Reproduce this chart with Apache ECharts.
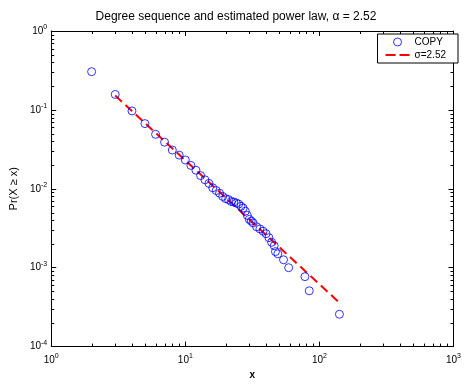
<!DOCTYPE html>
<html><head><meta charset="utf-8">
<script src="https://cdn.jsdelivr.net/npm/echarts@6/dist/echarts.min.js"></script>
<style>html,body{margin:0;padding:0;background:#fff}#c{width:464px;height:385px}</style>
</head><body><div id="c"></div>
<script>
// Data
const degX = [2,3,4,5,6,7,8,9,10,11,12,13,14,15,16,17,18,19,20,21,22,23,24,25,26,27,28,29,30,31,32,34,36,38,40,42,44,46,47,49,54,59,78,84,141];
const ccdf = [0.305,0.157,0.097,0.067,0.049,0.039,0.031,0.0267,0.0232,0.0198,0.0172,0.0147,0.0130,0.0117,0.0103,0.0095,0.0088,0.0080,0.0075,0.0073,0.0069,0.0068,0.0066,0.0064,0.0060,0.0057,0.0052,0.0046,0.0041,0.0039,0.0037,0.0033,0.0031,0.0029,0.0027,0.0024,0.0021,0.0019,0.0016,0.0015,0.00126,0.00100,0.00077,0.00051,0.000257];
const fitX = [3, 141];
const fitY = [0.152, 0.00036];
const xMinorTicks = [2,3,4,5,6,7,8,9,20,30,40,50,60,70,80,90,200,300,400,500,600,700,800,900];
const yMinorTicks = [2e-4,3e-4,4e-4,5e-4,6e-4,7e-4,8e-4,9e-4,2e-3,3e-3,4e-3,5e-3,6e-3,7e-3,8e-3,9e-3,0.02,0.03,0.04,0.05,0.06,0.07,0.08,0.09,0.2,0.3,0.4,0.5,0.6,0.7,0.8,0.9];
const titleText = 'Degree sequence and estimated power law, \u03b1 = 2.52';
const seriesNames = ['COPY', '\u03c3=2.52'];

const FONT = 'Liberation Sans';
const chart = echarts.init(document.getElementById('c'), null, {renderer:'canvas'});
const supFmt = v => '10{s|' + Math.round(Math.log10(v)) + '}';
const rich = {s:{fontSize:7, fontFamily:FONT, color:'#000', padding:[0,0,8,0]}};
const baseAxis = {
  type:'log', logBase:10,
  axisLine:{show:true, lineStyle:{color:'#000', width:1}},
  axisTick:{show:true, inside:true, length:5, lineStyle:{color:'#000'}},
  splitLine:{show:false}, minorTick:{show:false}
};
const tickData = xMinorTicks.map(v => [v, 0.01, 0]).concat(yMinorTicks.map(v => [10, v, 1]));

chart.setOption({
  animation:false,
  backgroundColor:'#fff',
  title:{text:titleText, left:231, top:6, textAlign:'center',
    textStyle:{fontFamily:FONT, fontSize:12, fontWeight:'normal', color:'#000'}},
  grid:{left:50, top:31, right:3, bottom:31, show:false},
  legend:{
    orient:'vertical', right:6, top:34, itemGap:3, itemWidth:24, itemHeight:8,
    borderColor:'#000', borderWidth:1, padding:[3,12,3,8], backgroundColor:'#fff',
    textStyle:{fontFamily:FONT, fontSize:10, color:'#000'},
    data:[
      {name:seriesNames[0], icon:'circle', itemStyle:{color:'#fff', borderColor:'#0000ff', borderWidth:1}},
      {name:seriesNames[1], icon:'path://M0,0 L10,0 L10,2 L0,2 Z M14,0 L24,0 L24,2 L14,2 Z', itemStyle:{color:'#ff0000'}}
    ]
  },
  xAxis:[
    Object.assign({}, baseAxis, {min:1, max:1000, position:'bottom',
      name:'x', nameLocation:'middle', nameGap:22,
      nameTextStyle:{fontFamily:FONT, fontSize:10, color:'#000', fontWeight:'bold'},
      axisLabel:{formatter:supFmt, rich:rich, fontFamily:FONT, fontSize:10, color:'#000', margin:6}}),
    Object.assign({}, baseAxis, {min:1, max:1000, position:'top', axisLabel:{show:false}})
  ],
  yAxis:[
    Object.assign({}, baseAxis, {min:1e-4, max:1, position:'left',
      name:'Pr(X \u2265 x)', nameLocation:'middle', nameGap:28, nameRotate:90,
      nameTextStyle:{fontFamily:FONT, fontSize:11, color:'#000'},
      axisLabel:{formatter:supFmt, rich:rich, fontFamily:FONT, fontSize:10, color:'#000', margin:4}}),
    Object.assign({}, baseAxis, {min:1e-4, max:1, position:'right', axisLabel:{show:false}})
  ],
  series:[
    {name:seriesNames[0], type:'scatter', xAxisIndex:0, yAxisIndex:0,
     data:degX.map((x,i)=>[x, ccdf[i]]), symbol:'circle', symbolSize:8,
     itemStyle:{color:'rgba(255,255,255,0)', borderColor:'#0000ff', borderWidth:1}, z:3},
    {name:seriesNames[1], type:'line', xAxisIndex:0, yAxisIndex:0,
     data:fitX.map((x,i)=>[x, fitY[i]]), symbol:'none',
     lineStyle:{color:'#ff0000', width:2, type:[9,5]}, z:2},
    {type:'custom', xAxisIndex:0, yAxisIndex:0, silent:true, clip:false,
     data:tickData, encode:{x:0, y:1},
     renderItem:function(params, api){
       const cs = params.coordSys;
       const kind = api.value(2);
       const st = {stroke:'#000', lineWidth:1};
       if (kind === 0) {
         const x = Math.round(api.coord([api.value(0), 0.01])[0]) + 0.5;
         return {type:'group', children:[
           {type:'line', shape:{x1:x, y1:cs.y+cs.height, x2:x, y2:cs.y+cs.height-3}, style:st},
           {type:'line', shape:{x1:x, y1:cs.y, x2:x, y2:cs.y+3}, style:st}
         ]};
       } else {
         const y = Math.round(api.coord([10, api.value(1)])[1]) + 0.5;
         return {type:'group', children:[
           {type:'line', shape:{x1:cs.x, y1:y, x2:cs.x+3, y2:y}, style:st},
           {type:'line', shape:{x1:cs.x+cs.width, y1:y, x2:cs.x+cs.width-3, y2:y}, style:st}
         ]};
       }
     }}
  ]
});
</script></body></html>
